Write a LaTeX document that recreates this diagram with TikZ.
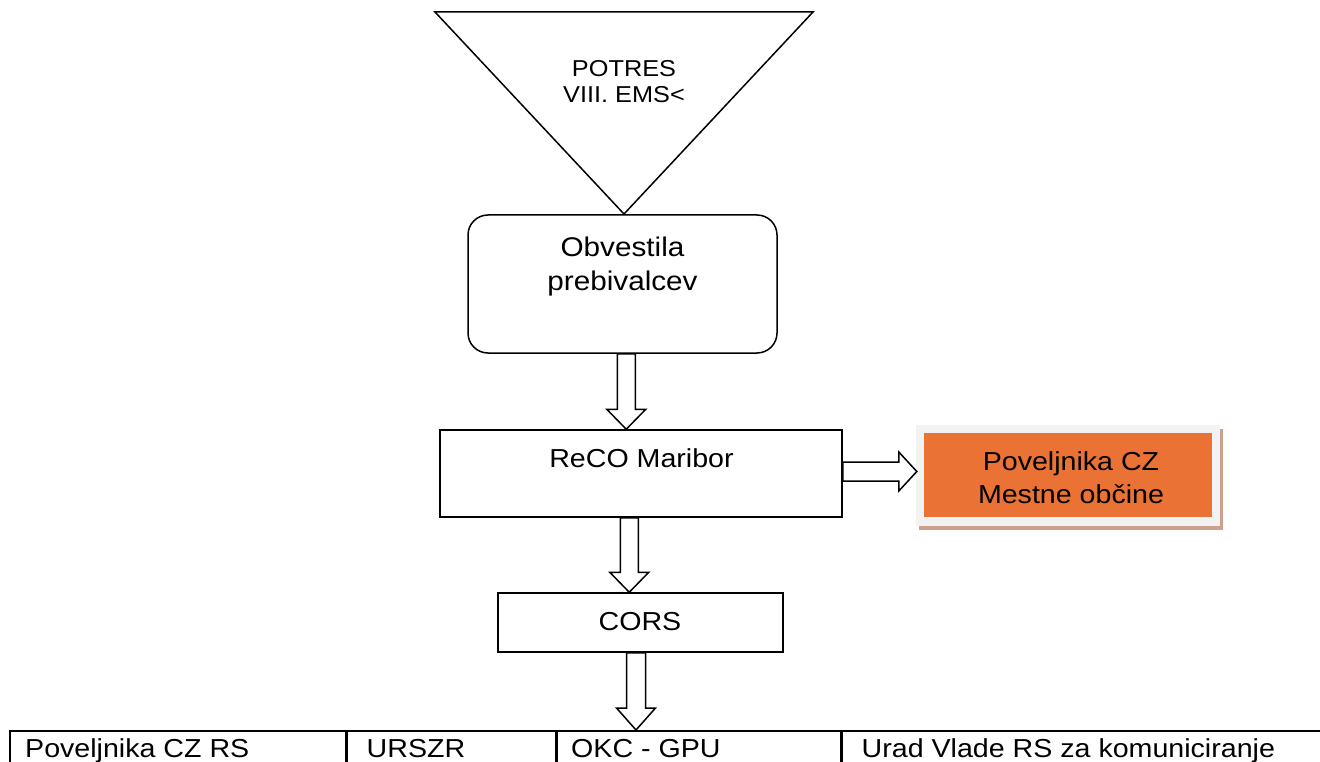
\documentclass[tikz,border=0pt]{standalone}
\usepackage{fontspec}
\setmainfont{Liberation Sans}[FakeStretch=1.1]
\usetikzlibrary{calc}
\definecolor{orangefill}{RGB}{234,114,52}
\definecolor{shadowbrown}{RGB}{204,160,140}
\definecolor{paleframe}{RGB}{242,242,242}
\tikzset{
  box/.style={draw, line width=1.5pt, inner sep=0pt, fill=white},
  cell/.style={draw, line width=1.5pt, inner sep=0pt, anchor=north west, minimum height=70pt},
  lbl/.style={font=\fontsize{26}{30}\selectfont, anchor=base, inner sep=0pt},
  cellt/.style={font=\fontsize{26}{30}\selectfont, anchor=base west, inner sep=0pt},
  blockarrow/.style={draw, line width=1.5pt, fill=white, line join=miter},
}
\begin{document}
\begin{tikzpicture}[x=1pt,y=-1pt]
\useasboundingbox (0,0) rectangle (1320,762);
\clip (0,0) rectangle (1320,762);

% triangle
\coordinate (tl) at (435,12);
\coordinate (tr) at (813,12);
\coordinate (apex) at (624,214);
\draw[line width=1.5pt, line join=miter] (tl) -- (tr) -- (apex) -- cycle;
\node[lbl, font=\fontsize{23}{27}\selectfont] (potres1) at (624,77) {POTRES};
\node[lbl, font=\fontsize{23}{27}\selectfont] (potres2) at (624,103) {VIII. EMS<};

% boxes
\node[box, rounded corners=20pt, minimum width=309pt, minimum height=138pt] (obv) at (622.5,284) {};
\node[lbl, font=\fontsize{27}{30}\selectfont] (obv1) at (622.5,256) {Obvestila};
\node[lbl, font=\fontsize{27}{30}\selectfont] (obv2) at (622.5,290) {prebivalcev};

\node[box, minimum width=402pt, minimum height=87pt] (reco) at (641,473.5) {};
\node[lbl] (recot) at (641.5,467) {ReCO Maribor};

\node[box, minimum width=285pt, minimum height=59pt] (cors) at (640.5,622.5) {};
\node[lbl] (corst) at (640,630) {CORS};

% orange box with frame and shadow
\node[fill=shadowbrown, inner sep=0pt, minimum width=304pt, minimum height=101pt] (povsh) at (1071,479.5) {};
\node[fill=paleframe, inner sep=0pt, minimum width=304pt, minimum height=101pt] (povframe) at (1068,475.5) {};
\node[fill=orangefill, inner sep=0pt, minimum width=288pt, minimum height=84pt] (pov) at (1068,475) {};
\node[lbl] (pov1) at (1071,470) {Poveljnika CZ};
\node[lbl] (pov2) at (1071,503) {Mestne občine};

% table
\node[cell, minimum width=336pt] (c1) at (9,730) {};
\node[cell, minimum width=208pt] (c2) at (c1.north east) {};
\node[cell, minimum width=284pt] (c3) at (c2.north east) {};
\node[cell, minimum width=478pt] (c4) at (c3.north east) {};
\node[cellt] (t1) at ($(c1.north west)+(16,27)$) {Poveljnika CZ RS};
\node[cellt] (t2) at ($(c2.north west)+(20,27)$) {URSZR};
\node[cellt] (t3) at ($(c3.north west)+(15,27)$) {OKC - GPU};
\node[cellt] (t4) at ($(c4.north west)+(20,27)$) {Urad Vlade RS za komuniciranje};

% block arrows
\coordinate (a1e) at ($(reco.north west)+(187,0)$);
\coordinate (a1s) at (a1e |- obv.south);
\draw[blockarrow] ($(a1s)+(-9,0)$) -- ($(a1e)+(-9,-20)$) -- ($(a1e)+(-19.5,-20)$) -- (a1e)
  -- ($(a1e)+(19.5,-20)$) -- ($(a1e)+(9,-20)$) -- ($(a1s)+(9,0)$) -- cycle;

\coordinate (a2e) at ($(cors.north west)+(132,0)$);
\coordinate (a2s) at (a2e |- reco.south);
\draw[blockarrow] ($(a2s)+(-9,0)$) -- ($(a2e)+(-9,-20)$) -- ($(a2e)+(-19.5,-20)$) -- (a2e)
  -- ($(a2e)+(19.5,-20)$) -- ($(a2e)+(9,-20)$) -- ($(a2s)+(9,0)$) -- cycle;

\coordinate (a3e) at ($(c3.north west)+(80,0)$);
\coordinate (a3s) at (a3e |- cors.south);
\draw[blockarrow] ($(a3s)+(-9.5,0)$) -- ($(a3e)+(-9.5,-22)$) -- ($(a3e)+(-19.5,-22)$) -- (a3e)
  -- ($(a3e)+(19.5,-22)$) -- ($(a3e)+(9.5,-22)$) -- ($(a3s)+(9.5,0)$) -- cycle;

\coordinate (a4e) at ($(povframe.west)+(1,-4)$);
\coordinate (a4s) at (a4e -| reco.east);
\draw[blockarrow] ($(a4s)+(0,-9.5)$) -- ($(a4e)+(-18,-9.5)$) -- ($(a4e)+(-18,-19.5)$) -- (a4e)
  -- ($(a4e)+(-18,19.5)$) -- ($(a4e)+(-18,9.5)$) -- ($(a4s)+(0,9.5)$) -- cycle;
\end{tikzpicture}
\end{document}
